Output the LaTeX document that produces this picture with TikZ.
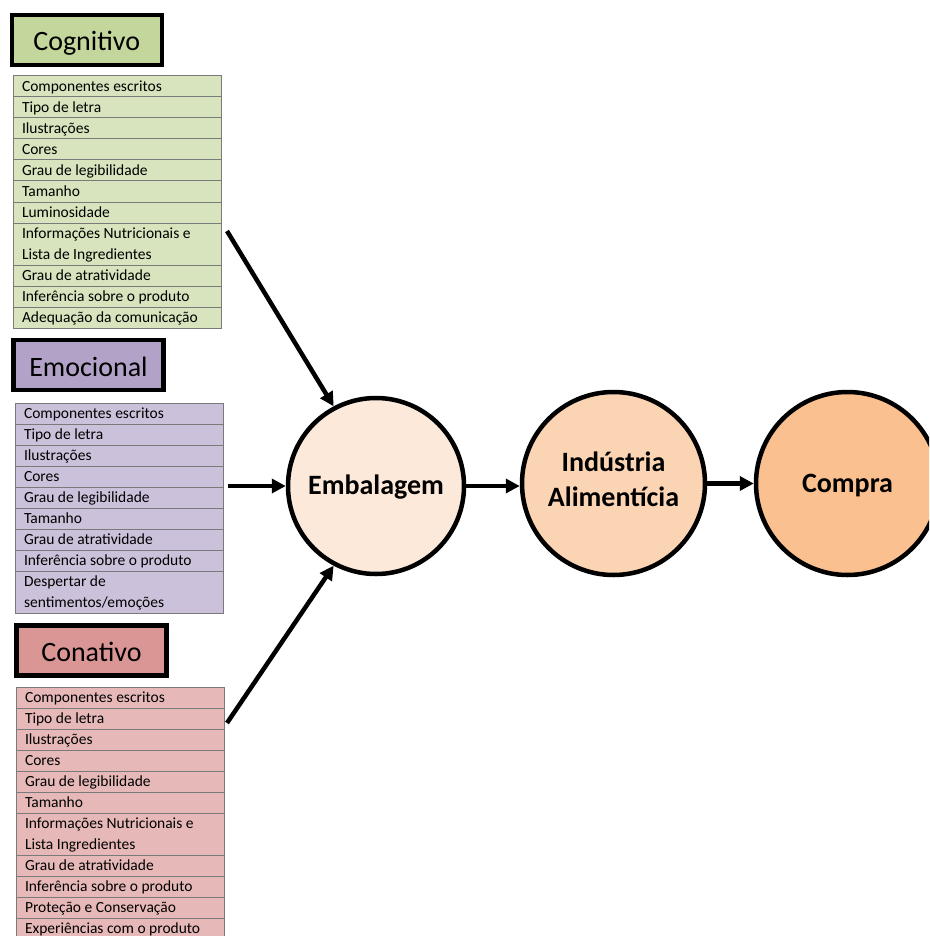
\documentclass[tikz,border=0pt]{standalone}
\usepackage{fontspec}
\setmainfont{Carlito}
\usetikzlibrary{arrows.meta,positioning}
\definecolor{cogT}{HTML}{C3D69B}
\definecolor{cogL}{HTML}{D7E4BD}
\definecolor{emoT}{HTML}{B3A2C7}
\definecolor{emoL}{HTML}{CCC1DA}
\definecolor{conT}{HTML}{D99694}
\definecolor{conL}{HTML}{E6B9B8}
\definecolor{fillA}{HTML}{FDE9D9}
\definecolor{fillB}{HTML}{FBD4B4}
\definecolor{fillC}{HTML}{FAC090}
\definecolor{rowline}{HTML}{7A7A7A}
\newcommand{\rowstrut}{\vrule width 0pt height 15.5pt depth 5.5pt\relax}
\newcommand{\rt}[1]{\hbox to 190pt{\rowstrut #1\hfil}}
\newcommand{\rtt}[2]{\vbox{\baselineskip=21pt\lineskip=0pt\rt{#1}\rt{#2}}}
\begin{document}
\begin{tikzpicture}[x=1pt,y=-1pt,
 titlebox/.style={draw=black, line width=4.5pt, fill=#1, minimum width=150pt, minimum height=50pt, inner sep=0pt, text height=24pt, text depth=2pt, font=\fontsize{28}{34}\selectfont},
 rowbox/.style={draw=rowline, line width=1pt, fill=#1, outer sep=0pt, inner xsep=9pt, inner ysep=0pt, font=\fontsize{15.5}{21}\selectfont},
 circ/.style={circle, draw=black, line width=4.5pt, fill=#1, inner sep=0pt, align=center, font=\bfseries\fontsize{28}{35}\selectfont},
 arr/.style={line width=4.5pt, -{Triangle[length=14pt,width=14pt]}}
]
\path[use as bounding box, clip] (0,0) rectangle (929,936);

% Cognitivo
\node[titlebox=cogT] (tcog) at (86.75,40) {Cognitivo};
\node[rowbox=cogL, anchor=north west] (g1) at (13,76) {\rt{Componentes escritos}};
\node[rowbox=cogL, below=0pt of g1] (g2) {\rt{Tipo de letra}};
\node[rowbox=cogL, below=0pt of g2] (g3) {\rt{Ilustrações}};
\node[rowbox=cogL, below=0pt of g3] (g4) {\rt{Cores}};
\node[rowbox=cogL, below=0pt of g4] (g5) {\rt{Grau de legibilidade}};
\node[rowbox=cogL, below=0pt of g5] (g6) {\rt{Tamanho}};
\node[rowbox=cogL, below=0pt of g6] (g7) {\rt{Luminosidade}};
\node[rowbox=cogL, below=0pt of g7] (g8) {\rtt{Informações Nutricionais e}{Lista de Ingredientes}};
\node[rowbox=cogL, below=0pt of g8] (g9) {\rt{Grau de atratividade}};
\node[rowbox=cogL, below=0pt of g9] (g10) {\rt{Inferência sobre o produto}};
\node[rowbox=cogL, below=0pt of g10] (g11) {\rt{Adequação da comunicação}};

% Emocional
\node[titlebox=emoT] (temo) at (88.5,365) {Emocional};
\node[rowbox=emoL, anchor=north west] (e1) at (15,403) {\rt{Componentes escritos}};
\node[rowbox=emoL, below=0pt of e1] (e2) {\rt{Tipo de letra}};
\node[rowbox=emoL, below=0pt of e2] (e3) {\rt{Ilustrações}};
\node[rowbox=emoL, below=0pt of e3] (e4) {\rt{Cores}};
\node[rowbox=emoL, below=0pt of e4] (e5) {\rt{Grau de legibilidade}};
\node[rowbox=emoL, below=0pt of e5] (e6) {\rt{Tamanho}};
\node[rowbox=emoL, below=0pt of e6] (e7) {\rt{Grau de atratividade}};
\node[rowbox=emoL, below=0pt of e7] (e8) {\rt{Inferência sobre o produto}};
\node[rowbox=emoL, below=0pt of e8] (e9) {\rtt{Despertar de}{sentimentos/emoções}};

% Conativo
\node[titlebox=conT] (tcon) at (91.5,650.5) {Conativo};
\node[rowbox=conL, anchor=north west] (k1) at (16,687) {\rt{Componentes escritos}};
\node[rowbox=conL, below=0pt of k1] (k2) {\rt{Tipo de letra}};
\node[rowbox=conL, below=0pt of k2] (k3) {\rt{Ilustrações}};
\node[rowbox=conL, below=0pt of k3] (k4) {\rt{Cores}};
\node[rowbox=conL, below=0pt of k4] (k5) {\rt{Grau de legibilidade}};
\node[rowbox=conL, below=0pt of k5] (k6) {\rt{Tamanho}};
\node[rowbox=conL, below=0pt of k6] (k7) {\rtt{Informações Nutricionais e}{Lista Ingredientes}};
\node[rowbox=conL, below=0pt of k7] (k8) {\rt{Grau de atratividade}};
\node[rowbox=conL, below=0pt of k8] (k9) {\rt{Inferência sobre o produto}};
\node[rowbox=conL, below=0pt of k9] (k10) {\rt{Proteção e Conservação}};
\node[rowbox=conL, below=0pt of k10] (k11) {\rt{Experiências com o produto}};

% Circles
\node[circ=fillA, minimum size=176pt, text height=21pt, text depth=5pt] (emb) at (376,486) {Embalagem};
\node[circ=fillB, minimum size=183pt, text depth=8pt] (ind) at (613.5,483.5) {Indústria\\Alimentícia};
\node[circ=fillC, minimum size=183pt, text height=21pt, text depth=4pt] (com) at (847.5,483.5) {Compra};

% Arrows
\coordinate (s1) at (227,231);
\coordinate (s2) at (228,486);
\coordinate (s3) at (227,723);
\draw[arr] (s1) -- (emb.118);
\draw[arr] (s2) -- (s2 -| emb.west);
\draw[arr] (s3) -- (emb.-118);
\draw[arr] (emb.east) -- (emb.east -| ind.west);
\draw[arr] (ind) -- (com);
\end{tikzpicture}
\end{document}
